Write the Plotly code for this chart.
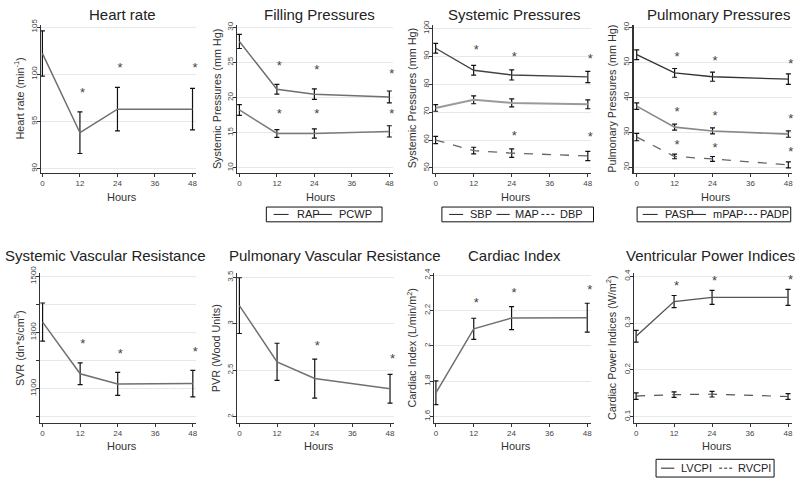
import plotly.graph_objects as go

# ---------------- data ----------------
hours = [0, 12, 24, 48]
x_ticks = [0, 12, 24, 36, 48]

hr = [102.2, 93.8, 96.3, 96.3]
hr_err = [2.4, 2.2, 2.3, 2.2]
hr_star = [None, 97.9, 100.6, 100.6]

pcwp = [28.0, 21.2, 20.5, 20.1]
pcwp_err = [1.0, 0.7, 0.75, 0.85]
pcwp_star = [None, 24.4, 23.9, 23.3]
rap = [18.25, 14.9, 14.9, 15.2]
rap_err = [0.77, 0.56, 0.65, 0.8]
rap_star = [None, 17.5, 17.5, 17.5]

sbp = [92.9, 85.0, 83.3, 82.6]
sbp_err = [1.75, 1.75, 1.8, 2.0]
sbp_star = [None, 92.0, 89.4, 88.8]
map_ = [71.5, 74.4, 73.3, 72.8]
map_err = [1.2, 1.4, 1.45, 1.6]
dbp = [60.0, 56.2, 55.3, 54.3]
dbp_err = [1.3, 1.2, 1.5, 1.65]
dbp_star = [None, None, 61.2, 60.8]

pasp = [52.2, 47.0, 45.9, 45.2]
pasp_err = [1.4, 1.25, 1.3, 1.5]
pasp_star = [None, 51.3, 50.1, 49.2]
mpap = [37.5, 31.5, 30.4, 29.5]
mpap_err = [0.95, 0.85, 0.85, 0.9]
mpap_star = [None, 35.6, 34.6, 33.6]
padp = [28.65, 23.1, 22.4, 20.7]
padp_err = [1.05, 0.65, 0.7, 0.85]
padp_star = [None, 26.2, 25.3, 24.2]

svr = [1337, 1153, 1117, 1118]
svr_err = [68, 39, 41, 47]
svr_star = [None, 1258, 1219, 1227]

pvr = [3.195, 2.59, 2.41, 2.30]
pvr_err = [0.30, 0.20, 0.21, 0.155]
pvr_star = [None, None, 2.757, 2.609]

ci = [1.735, 2.097, 2.158, 2.16]
ci_err = [0.067, 0.06, 0.065, 0.082]
ci_star = [None, 2.24, 2.296, 2.314]

lvcpi = [0.272, 0.346, 0.355, 0.355]
lvcpi_err = [0.0125, 0.013, 0.015, 0.017]
lvcpi_star = [None, 0.377, 0.388, 0.391]
rvcpi = [0.144, 0.147, 0.148, 0.143]
rvcpi_err = [0.007, 0.006, 0.006, 0.006]

titles = ["Heart rate", "Filling Pressures", "Systemic Pressures", "Pulmonary Pressures",
          "Systemic Vascular Resistance", "Pulmonary Vascular Resistance", "Cardiac Index",
          "Ventricular Power Indices"]
ytitles = ["Heart rate (min<sup>-1</sup>)", "Systemic Pressures (mm Hg)", "Systemic Pressures (mm Hg)",
           "Pulmonary Pressures (mm Hg)", "SVR (dn*s/cm<sup>5</sup>)", "PVR (Wood Units)",
           "Cardiac Index (L/min/m<sup>2</sup>)", "Cardiac Power Indices (W/m<sup>2</sup>)"]
yticks = [
    ([90, 95, 100, 105], ["90", "95", "100", "105"]),
    ([10, 15, 20, 25, 30], ["10", "15", "20", "25", "30"]),
    ([50, 60, 70, 80, 90, 100], ["50", "60", "70", "80", "90", "100"]),
    ([20, 30, 40, 50, 60], ["20", "30", "40", "50", "60"]),
    ([1000, 1100, 1200, 1300, 1400, 1500], [" ", "1100", " ", "1300", " ", "1500"]),
    ([2, 2.5, 3, 3.5], ["2", "2.5", "3", "3.5"]),
    ([1.6, 1.8, 2, 2.2, 2.4], ["1.6", "1.8", "2", "2.2", "2.4"]),
    ([0.1, 0.2, 0.3, 0.4], ["0.1", "0.2", "0.3", "0.4"]),
]

# ---------------- geometry (pixels) ----------------
W, H = 800, 480
FONT = "Liberation Sans, Arial, sans-serif"
# axis_px, x0_px, x48_px, top, bottom, (v1,p1), (v2,p2), title_x, ytitle_x, y_axis_width
geo = [
    (40.0, 41.5, 192.0, 18, 168, (105, 20.3), (90, 164.0), 121.7, 18.0, 1),
    (236.7, 239.0, 389.3, 18, 168, (30, 20.7), (10, 163.3), 319.7, 216.0, 1),
    (433.3, 435.7, 588.3, 18, 168, (100, 21.7), (50, 163.3), 514.7, 411.7, 1),
    (634.3, 637.3, 789.3, 18, 168, (60, 20.7), (20, 162.7), 718.8, 611.7, 2),
    (39.3, 41.7, 192.3, 270, 421.7, (1500, 273.3), (1100, 387.3), 105.0, 18.3, 1),
    (236.7, 239.0, 390.0, 270, 421.7, (3.5, 274.3), (2, 415.7), 334.0, 215.0, 1),
    (434.3, 436.0, 587.7, 270, 421.7, (2.4, 272.3), (1.6, 415.7), 515.0, 411.7, 1),
    (634.3, 636.7, 789.0, 270, 421.7, (0.4, 273.3), (0.1, 415.7), 711.0, 611.7, 1),
]
hours_x = [121.5, 320.5, 515.8, 716.7, 121.0, 319.0, 516.3, 717.4]


def px(x):
    return x / W


def py(y):
    return 1 - y / H


fig = go.Figure()
annotations = []
shapes = []

for i, (ax, x0, x48, top, bot, (v1, p1), (v2, p2), tx, ytx, yw) in enumerate(geo):
    n = "" if i == 0 else str(i + 1)
    s = (x48 - x0) / 48.0
    right = min(x48 + 3.5, 799)
    xr = [(ax - x0) / s, 48 + (right - x48) / s]
    vb = v1 + (bot - p1) / (p2 - p1) * (v2 - v1)
    vt = v1 + (top - p1) / (p2 - p1) * (v2 - v1)
    fig.layout["xaxis" + n] = dict(
        domain=[px(ax), px(right)], range=xr, anchor="y" + n,
        tickvals=x_ticks, ticktext=[str(t) for t in x_ticks],
        showline=True, linecolor="#333", linewidth=1, showgrid=False, zeroline=False,
        ticks="outside", ticklen=3, tickcolor="#333",
        tickfont=dict(family=FONT, size=8, color="#444"),
    )
    fig.layout["yaxis" + n] = dict(
        domain=[py(bot), py(top)], range=[vb, vt], anchor="x" + n,
        tickvals=yticks[i][0], ticktext=yticks[i][1], tickangle=-90,
        showline=True, linecolor="#333", linewidth=yw, showgrid=True,
        gridcolor="#e2eaee", gridwidth=1, zeroline=False,
        ticks="outside", ticklen=3, tickcolor="#333", ticklabelstandoff=-3,
        tickfont=dict(family=FONT, size=8, color="#444"),
    )
    annotations.append(dict(text=titles[i], x=px(tx), y=py(8 if i < 4 else 252),
                            xref="paper", yref="paper", showarrow=False,
                            xanchor="center", yanchor="middle",
                            font=dict(family=FONT, size=15, color="#222")))
    annotations.append(dict(text=ytitles[i], x=px(ytx), y=py((top + bot) / 2),
                            xref="paper", yref="paper", showarrow=False, textangle=-90,
                            xanchor="center", yanchor="middle",
                            font=dict(family=FONT, size=10.8, color="#333")))
    annotations.append(dict(text="Hours", x=px(hours_x[i]), y=py(193 if i < 4 else 445),
                            xref="paper", yref="paper", showarrow=False,
                            xanchor="center", yanchor="middle",
                            font=dict(family=FONT, size=11, color="#333")))


def series(panel, y, err, color, width=1.5, dash="solid"):
    n = "" if panel == 0 else str(panel + 1)
    fig.add_trace(go.Scatter(
        x=hours, y=y, mode="lines", xaxis="x" + n, yaxis="y" + n,
        line=dict(color=color, width=width, dash=dash), showlegend=False,
        error_y=dict(type="data", array=err, color="#111", thickness=1.2, width=2.5),
        cliponaxis=False,
    ))


def stars(panel, ys):
    n = "" if panel == 0 else str(panel + 1)
    xs = [h for h, v in zip(hours, ys) if v is not None]
    yv = [v for v in ys if v is not None]
    fig.add_trace(go.Scatter(
        x=xs, y=yv, mode="text", text=["*"] * len(xs), textposition="middle right",
        textfont=dict(family=FONT, size=13, color="#444"),
        xaxis="x" + n, yaxis="y" + n, showlegend=False, cliponaxis=False,
    ))


C_DARK = "#444444"
C_MID = "#707070"
C_LIGHT = "#9a9a9a"

series(0, hr, hr_err, C_MID)
stars(0, hr_star)

series(1, pcwp, pcwp_err, C_MID)
series(1, rap, rap_err, "#7a7a7a")
stars(1, pcwp_star)
stars(1, rap_star)

series(2, sbp, sbp_err, C_DARK, 1.3)
series(2, map_, map_err, C_LIGHT, 2)
series(2, dbp, dbp_err, "#666666", 1.3, "dash")
stars(2, sbp_star)
stars(2, dbp_star)

series(3, pasp, pasp_err, "#333333", 1.3)
series(3, mpap, mpap_err, "#888888", 1.6)
series(3, padp, padp_err, "#666666", 1.3, "dash")
stars(3, pasp_star)
stars(3, mpap_star)
stars(3, padp_star)

series(4, svr, svr_err, C_MID)
stars(4, svr_star)
series(5, pvr, pvr_err, C_MID)
stars(5, pvr_star)
series(6, ci, ci_err, C_MID)
stars(6, ci_star)
series(7, lvcpi, lvcpi_err, "#555555", 1.4)
series(7, rvcpi, rvcpi_err, "#555555", 1.2, "dash")
stars(7, lvcpi_star)

# ---------------- legends (drawn) ----------------
legends = [
    ((266, 203, 382, 218), 210.5, [(273.3, 288.3, "#222", "solid", "RAP", 294.3),
                                   (316.0, 331.7, "#222", "solid", "PCWP", 336.7)]),
    ((442, 203, 594, 218), 210.5, [(449.3, 463.3, "#222", "solid", "SBP", 468.0),
                                   (496.7, 510.0, "#222", "solid", "MAP", 513.0),
                                   (541.7, 555.0, "#222", "dash", "DBP", 558.0)]),
    ((637.7, 203, 791.7, 218), 210.5, [(643.3, 658.3, "#222", "solid", "PASP", 663.3),
                                       (691.0, 706.7, "#222", "solid", "mPAP", 711.7),
                                       (740.0, 758.3, "#222", "dash", "PADP", 759.0)]),
    ((656.7, 459, 775, 477), 468.0, [(661.7, 675.0, "#222", "solid", "LVCPI", 680.0),
                                     (720.0, 733.3, "#222", "dash", "RVCPI", 736.7)]),
]
for (bx0, by0, bx1, by1), yc, items in legends:
    shapes.append(dict(type="rect", xref="paper", yref="paper", x0=px(bx0), x1=px(bx1),
                       y0=py(by1), y1=py(by0), line=dict(color="#111", width=1),
                       fillcolor="rgba(0,0,0,0)", layer="above"))
    for lx0, lx1, col, dash, label, tx in items:
        shapes.append(dict(type="line", xref="paper", yref="paper", x0=px(lx0), x1=px(lx1),
                           y0=py(yc), y1=py(yc),
                           line=dict(color=col, width=1, dash="3px,2px" if dash == "dash" else "solid")))
        annotations.append(dict(text=label, x=px(tx), y=py(yc), xref="paper", yref="paper",
                                showarrow=False, xanchor="left", yanchor="middle",
                                font=dict(family=FONT, size=11, color="#222")))

fig.update_layout(
    width=W, height=H, margin=dict(l=0, r=0, t=0, b=0),
    paper_bgcolor="white", plot_bgcolor="white",
    annotations=annotations, shapes=shapes, showlegend=False,
    font=dict(family=FONT),
)
fig.write_html("out.html", config={"displayModeBar": False},
               post_script="document.body.style.margin='0';document.body.style.overflow='hidden';")
